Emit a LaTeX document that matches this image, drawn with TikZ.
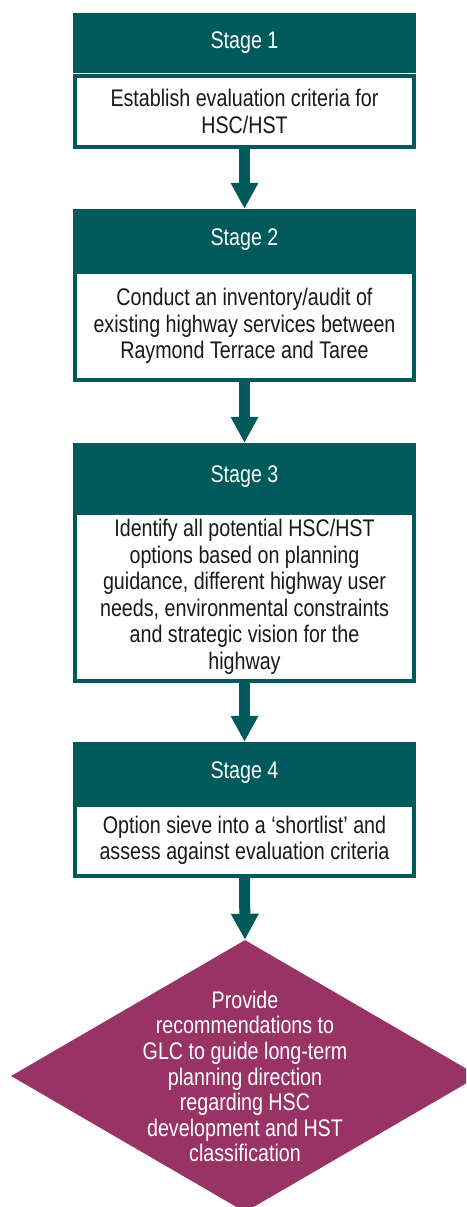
\documentclass[tikz,border=0pt]{standalone}
\usepackage{fontspec}
\setmainfont{Liberation Sans}[FakeStretch=0.82]
\usetikzlibrary{arrows.meta,shapes.geometric}
\definecolor{teal}{RGB}{0,90,91}
\definecolor{plum}{RGB}{153,51,102}
\definecolor{ink}{RGB}{25,25,25}
\tikzset{
  hdr/.style={fill=teal, text=white, minimum width=343pt, inner sep=0pt, font=\fontsize{24}{26.5}\selectfont},
  bodybox/.style={draw=teal, line width=4pt, fill=white, minimum width=339pt, inner sep=0pt, align=center, text=ink, font=\fontsize{24}{26.5}\selectfont},
  flowarrow/.style={draw=teal, line width=11pt, -{Triangle[width=26pt,length=26pt]}},
  dtext/.style={text=white, align=center, inner sep=0pt, font=\fontsize{24}{25.6}\selectfont},
}
\begin{document}
\begin{tikzpicture}[x=1pt,y=-1pt]
\useasboundingbox (0,0) rectangle (466,1207);
\begin{scope}
\clip (0,0) rectangle (466,1207);
% Stage 1
\node[hdr, minimum height=60pt] (h1) at (244.5,43) {Stage 1};
\node[bodybox, minimum height=71pt] (b1) at (244.5,111.5) {Establish evaluation criteria for\\HSC/HST};
% Stage 2
\node[hdr, minimum height=61pt] (h2) at (244.5,239.5) {Stage 2};
\node[bodybox, minimum height=108pt] (b2) at (244.5,326) {Conduct an inventory/audit of\\existing highway services between\\Raymond Terrace and Taree};
% Stage 3
\node[hdr, minimum height=68pt] (h3) at (244.5,477) {Stage 3};
\node[bodybox, minimum height=168pt] (b3) at (244.5,597) {Identify all potential HSC/HST\\options based on planning\\guidance, different highway user\\needs, environmental constraints\\and strategic vision for the\\highway};
% Stage 4
\node[hdr, minimum height=61pt] (h4) at (244.5,772.5) {Stage 4};
\node[bodybox, minimum height=71pt] (b4) at (244.5,840.5) {Option sieve into a `shortlist' and\\assess against evaluation criteria};
% Decision diamond
\node[diamond, fill=plum, minimum width=468pt, minimum height=272pt, inner sep=0pt] (d) at (245,1076) {};
\node[dtext] (dt) at (245,1076.5) {Provide\\recommendations to\\GLC to guide long-term\\planning direction\\regarding HSC\\development and HST\\classification};
% Arrows
\draw[flowarrow] (b1.south) -- (h2.north);
\draw[flowarrow] (b2.south) -- (h3.north);
\draw[flowarrow] (b3.south) -- (h4.north);
\draw[flowarrow] (b4.south) -- (d.north);
\end{scope}
\end{tikzpicture}
\end{document}
